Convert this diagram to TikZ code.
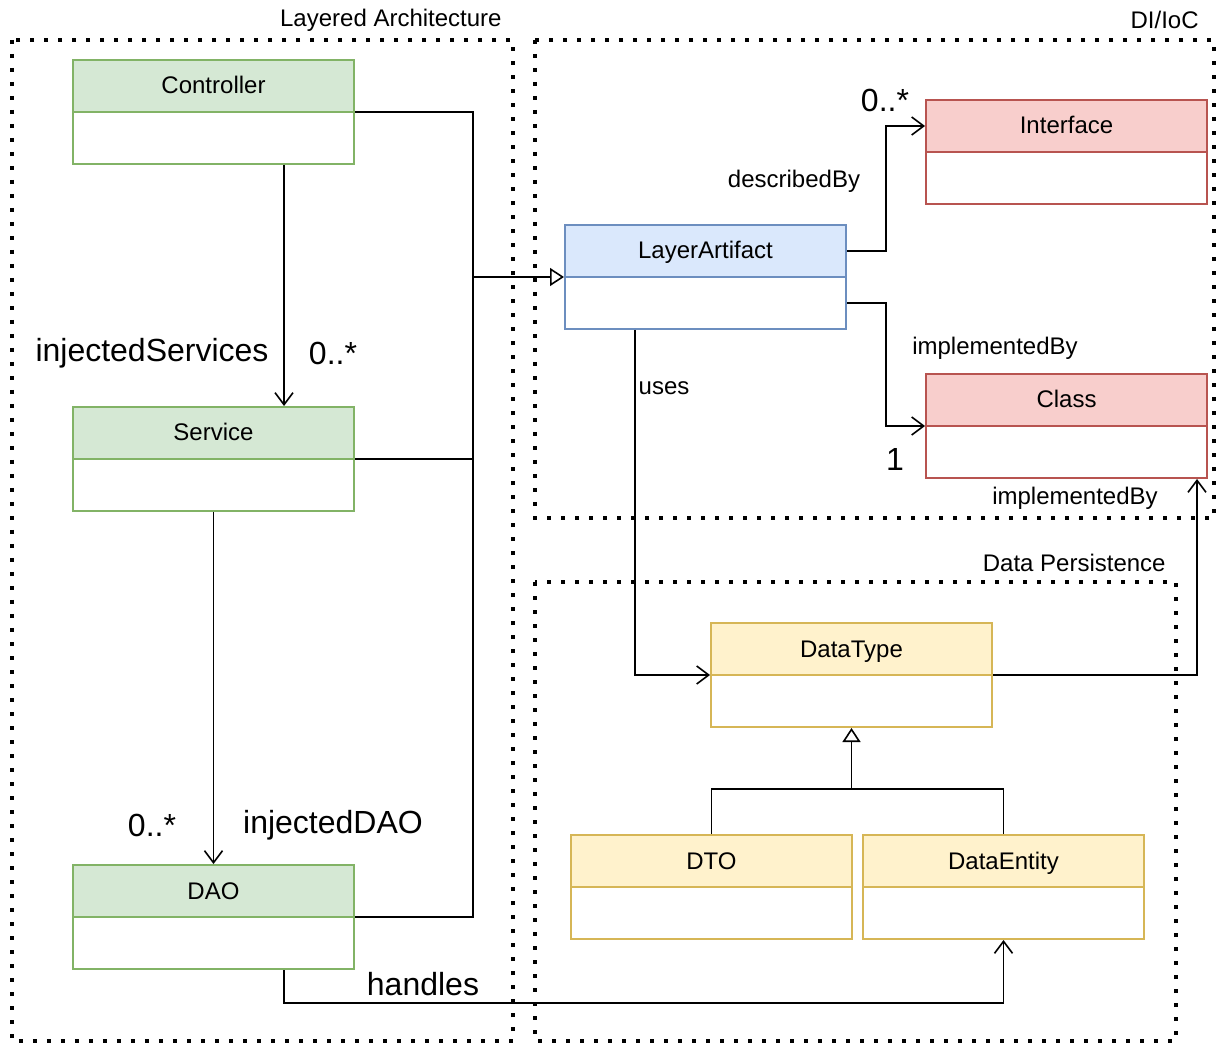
\documentclass[tikz,border=0pt]{standalone}
\usepackage{fontspec}
\setmainfont{Liberation Sans}
\usetikzlibrary{arrows.meta}
\definecolor{gS}{HTML}{82B366}\definecolor{gF}{HTML}{D5E8D4}
\definecolor{bS}{HTML}{6C8EBF}\definecolor{bF}{HTML}{DAE8FC}
\definecolor{rS}{HTML}{B85450}\definecolor{rF}{HTML}{F8CECC}
\definecolor{yS}{HTML}{D6B656}\definecolor{yF}{HTML}{FFF2CC}
\tikzset{
  ubody/.style={rectangle, fill=white, line width=1pt, inner sep=0pt, minimum width=140.5pt, minimum height=52pt},
  uhead/.style={rectangle, line width=1pt, inner sep=0pt, minimum width=140.5pt, minimum height=26pt, text height=8.6pt, text depth=0.6pt, font=\fontsize{12}{14}\selectfont},
  conn/.style={line width=0.8pt, draw=black},
  assoc/.style={conn, -{Straight Barb[length=6pt,width=9pt]}},
  inh/.style={conn, -{Triangle[open, length=7pt, width=9pt]}},
  zone/.style={line width=2pt, dash pattern=on 2pt off 5pt},
  small/.style={font=\fontsize{12}{14}\selectfont, inner sep=0pt},
  big/.style={font=\fontsize{16}{18}\selectfont, inner sep=0pt},
}
\newcommand\umlc[6]{%
  \node[ubody, draw=#5, anchor=north west] (#1) at (#2,#3) {};
  \node[uhead, draw=#5, fill=#6, anchor=north] (#1h) at (#1.north) {#4};}
\begin{document}
\begin{tikzpicture}[x=0.5pt, y=-0.5pt]
\useasboundingbox (0,0) rectangle (1217,1043);
% zones
\draw[zone] (12,40) rectangle (513,1041);
\draw[zone] (535,40) rectangle (1214,518);
\draw[zone] (535,582) rectangle (1176,1041);
\node[small, anchor=east] (tLA) at (502,20) {Layered Architecture};
\node[small, anchor=east] (tDI) at (1199,20) {DI/IoC};
\node[small, anchor=east] (tDP) at (1166,563) {Data Persistence};
% classes
\umlc{ctrl}{72}{59}{Controller}{gS}{gF}
\umlc{svc}{72}{406}{Service}{gS}{gF}
\umlc{dao}{72}{864}{DAO}{gS}{gF}
\umlc{la}{564}{224}{LayerArtifact}{bS}{bF}
\umlc{itf}{925}{99}{Interface}{rS}{rF}
\umlc{cls}{925}{373}{Class}{rS}{rF}
\umlc{dt}{710}{622}{DataType}{yS}{yF}
\umlc{dto}{570}{834}{DTO}{yS}{yF}
\umlc{de}{862}{834}{DataEntity}{yS}{yF}
% bus to LayerArtifact
\coordinate (jx) at (473,0);
\coordinate (j) at (jx |- la.west);
\draw[inh] (ctrl.east) -| (j) -- (la.west);
\draw[conn] (svc.east) -| (j);
\draw[conn] (dao.east) -| (j);
% layered
\draw[assoc] ([xshift=35.25pt]ctrl.south) -- ([xshift=35.25pt]svc.north);
\draw[assoc] (svc.south) -- (dao.north);
\coordinate (hc) at (283,1003);
\draw[assoc] ([xshift=35.25pt]dao.south) |- (hc) -| (de.south);
% DI
\draw[assoc] ([yshift=13pt]la.east) -- ++(19.5pt,0) |- (itfh.west);
\draw[assoc] ([yshift=-13pt]la.east) -- ++(19.5pt,0) |- (cls.west);
\draw[assoc] ([xshift=-35.25pt]la.south) |- (dt.west);
\draw[assoc] (dt.east) -| ([xshift=65.25pt]cls.south);
% generalization
\path (dt.south) ++(0,-30.5pt) coordinate (g);
\draw[inh] (dto.north) |- (g) -- (dt.south);
\draw[conn] (de.north) |- (g);
% labels
\node[big] (l1) at (152,353) {injectedServices};
\node[big] (l2) at (333,353) {0..*};
\node[big] (l3) at (152,825) {0..*};
\node[big] (l4) at (333,825) {injectedDAO};
\node[big] (l5) at (423,984) {handles};
\node[small] (l6) at (794,181) {describedBy};
\node[big] (l7) at (885,100) {0..*};
\node[small] (l8) at (995,348) {implementedBy};
\node[big] (l9) at (895,459) {1};
\node[small] (l10) at (664,388) {uses};
\node[small] (l11) at (1075,498) {implementedBy};
\end{tikzpicture}
\end{document}
